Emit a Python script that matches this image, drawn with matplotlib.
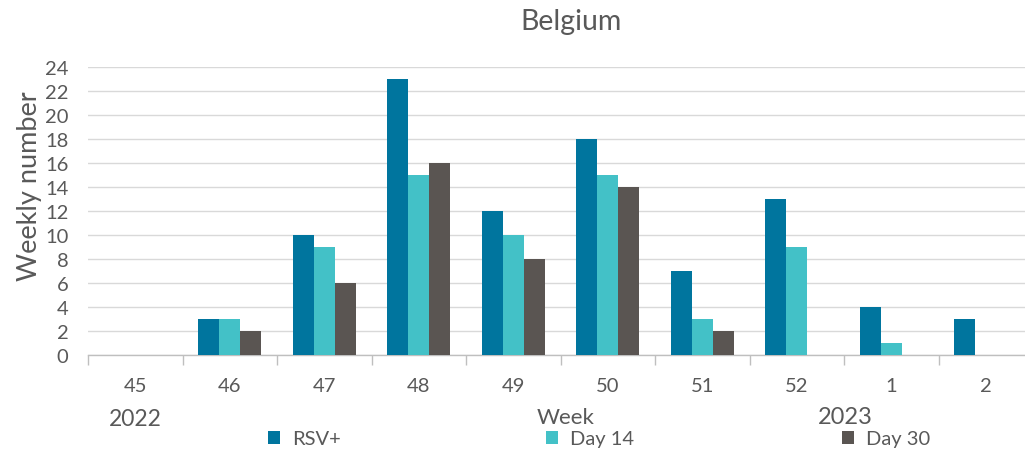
import matplotlib
matplotlib.use("Agg")
import matplotlib.pyplot as plt
import numpy as np

weeks = ["45", "46", "47", "48", "49", "50", "51", "52", "1", "2"]
rsv_pos = [0, 3, 10, 23, 12, 18, 7, 13, 4, 3]
day14 = [0, 3, 9, 15, 10, 15, 3, 9, 1, 0]
day30 = [0, 2, 6, 16, 8, 14, 2, 0, 0, 0]
series_names = ["RSV+", "Day 14", "Day 30"]
colors = ["#00759E", "#43C1C7", "#5A5552"]

plt.rcParams['font.family'] = ['Lato', 'DejaVu Sans']
txt = "#595959"

W, H = 1025, 456
fig = plt.figure(figsize=(W / 100, H / 100), dpi=100)
ax = fig.add_axes([88 / W, 1 - 356 / H, 945 / W, 288 / H])

x = np.arange(len(weeks))
bw = 0.223
conts = []
for i, (vals, c) in enumerate(zip([rsv_pos, day14, day30], colors)):
    conts.append(ax.bar(x + (i - 1) * bw, vals, width=bw, color=c, zorder=3))

ax.set_xlim(-0.5, len(weeks) - 0.5)
ax.set_ylim(0, 24)
ax.set_yticks(np.arange(0, 25, 2))
ax.yaxis.grid(True, color="#D9D9D9", linewidth=1.0, zorder=0)
for s in ["top", "right", "left"]:
    ax.spines[s].set_visible(False)
ax.spines["bottom"].set_color("#BFBFBF")
ax.spines["bottom"].set_linewidth(1.0)

ax.set_xticks(x)
ax.set_xticklabels(weeks)
ax.set_xticks(np.arange(-0.5, len(weeks), 1), minor=True)
ax.tick_params(axis="x", which="major", length=0, pad=16, labelsize=14.5, labelcolor=txt)
ax.tick_params(axis="x", which="minor", length=7, color="#BFBFBF", width=1)
ax.tick_params(axis="y", length=0, pad=14, labelsize=14.5, labelcolor=txt)

fig.text(571 / W, 1 - 22 / H, "Belgium", ha="center", va="center", fontsize=20.5, color=txt)
fig.text(30 / W, 1 - 186 / H, "Weekly number", ha="center", va="center", rotation=90,
         fontsize=19.5, color=txt)
fig.text(135 / W, 1 - 420 / H, "2022", ha="center", va="center", fontsize=16.5, color=txt)
fig.text(566 / W, 1 - 418 / H, "Week", ha="center", va="center", fontsize=16, color=txt)
fig.text(845 / W, 1 - 418 / H, "2023", ha="center", va="center", fontsize=17, color=txt)

leg_x = [268, 546, 842]
for cont, name, lx in zip(conts, series_names, leg_x):
    fig.legend([cont], [name], loc="center left", bbox_to_anchor=(lx / W, 1 - 440 / H),
               frameon=False, fontsize=14.5, handlelength=0.6, handleheight=0.6,
               handletextpad=0.6, labelcolor=txt, borderpad=0, borderaxespad=0)

fig.savefig("out.png", dpi=100)
